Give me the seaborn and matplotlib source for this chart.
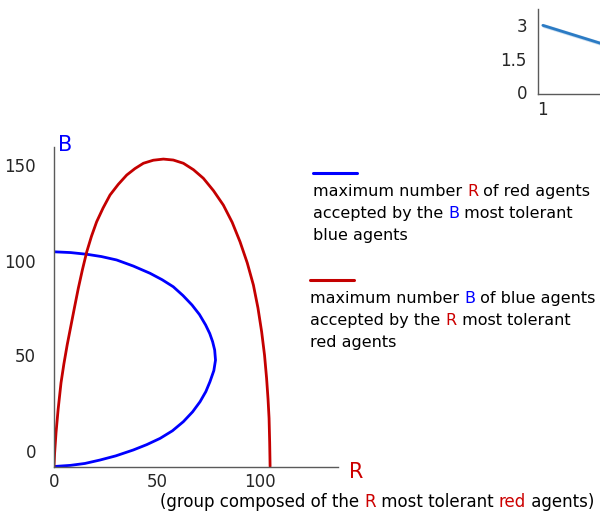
import numpy as np
import pandas as pd
import matplotlib
matplotlib.use("Agg")
import matplotlib.pyplot as plt
import seaborn as sns
from matplotlib.transforms import ScaledTranslation
from matplotlib.lines import Line2D

# ---------------- data ----------------
# blue curve: max number R of red agents accepted by the B most tolerant blue agents
blue_R = [0, 8, 15, 22.3, 30, 38.5, 45, 51.5, 57.5, 62.8, 67.3, 70.9, 73.7,
          75.7, 77.6, 78.4, 78.0, 77.0, 75.6, 73.6, 70.6, 67.0, 62.6, 57.9,
          52.5, 46.6, 38.5, 30.4, 23.0, 15.9, 8.0, 0]
blue_B = [0, 0.6, 1.6, 3.4, 5.6, 8.7, 11.5, 14.8, 18.8, 23.6, 28.8, 34.1, 39.4,
          44.6, 50.5, 56.0, 61.3, 65.7, 70.0, 74.5, 80.0, 85.0, 90.0, 94.6,
          98.3, 101.7, 105.5, 108.7, 110.5, 111.7, 112.6, 113.0]
# red curve: max number B of blue agents accepted by the R most tolerant red agents
red_R = [0, 0.3, 1.0, 2.0, 3.4, 4.8, 6.4, 8.2, 10.0, 11.8, 13.8, 15.9, 18.2,
         20.7, 23.8, 27.2, 31.2, 35.3, 39.3, 43.4, 48.2, 53.1, 57.9, 62.8,
         67.7, 72.5, 77.4, 82.2, 86.5, 90.3, 93.8, 96.8, 99.0, 100.8, 102.2,
         103.2, 103.9, 104.4, 104.7, 104.9]
red_B = [0, 7, 18, 30, 44, 54, 64, 74, 84, 93.8, 103.6, 113.0, 121.2,
         128.8, 136.0, 142.9, 148.5, 153.4, 156.8, 159.6, 161.2, 161.8, 161.3,
         159.6, 156.2, 151.7, 145.2, 137.6, 128.5, 118.3, 107.2, 95.5, 83.5,
         70.9, 58.6, 46.4, 35.5, 25.4, 12.5, 0]

main_xticks = [0, 50, 100]
main_yticks = [0, 50, 100, 150]

# small inset (top right, cropped by the figure edge)
inset_x = [1, 1, 1, 2, 2, 2]
inset_y = [2.92, 3.0, 3.04, 1.57, 1.65, 1.69]
inset_yticks = [0, 1.5, 3]
inset_yticklabels = ["0", "1.5", "3"]
inset_xticks = [1]

legend_blue = [
    [("maximum number ", "black"), ("R", "#cc0000"), (" of red agents", "black")],
    [("accepted by the ", "black"), ("B", "#0000ff"), (" most tolerant", "black")],
    [("blue agents", "black")],
]
legend_red = [
    [("maximum number ", "black"), ("B", "#0000ff"), (" of blue agents", "black")],
    [("accepted by the ", "black"), ("R", "#cc0000"), (" most tolerant", "black")],
    [("red agents", "black")],
]
caption = [("(group composed of the ", "black"), ("R", "#cc0000"),
           (" most tolerant ", "black"), ("red", "#cc0000"), (" agents)", "black")]

# ---------------- figure ----------------
sns.set_style("white")
plt.rcParams["font.family"] = ["DejaVu Sans"]

W, H = 600, 514
fig = plt.figure(figsize=(W / 100, H / 100), dpi=100)


def fx(x):
    return x / W


def fy(y):
    return 1 - y / H


BLUE = "#0000ff"
RED = "#c40000"
SPINE = "#5a5a5a"

ax = fig.add_axes([fx(54), fy(466.5), (338 - 54) / W, (466.5 - 147) / H])
sns.lineplot(x=blue_R, y=blue_B, sort=False, estimator=None, color=BLUE,
             lw=2.0, ax=ax)
sns.lineplot(x=red_R, y=red_B, sort=False, estimator=None, color=RED,
             lw=2.0, ax=ax)
ax.set_xlim(0, (338 - 54) / 2.06)
ax.set_ylim(0, (466.5 - 147) / 1.9)
for s in ["top", "right"]:
    ax.spines[s].set_visible(False)
for s in ["left", "bottom"]:
    ax.spines[s].set_color(SPINE)
    ax.spines[s].set_linewidth(1.0)
ax.set_xticks(main_xticks)
ax.set_yticks(main_yticks)
ax.tick_params(axis="both", length=0, labelsize=12)
ax.tick_params(axis="y", pad=13)
ax.tick_params(axis="x", pad=5)
for lab in ax.get_yticklabels():
    lab.set_transform(lab.get_transform() +
                      ScaledTranslation(0, 0.16, fig.dpi_scale_trans))

fig.text(fx(65), fy(145), "B", color=BLUE, fontsize=15, ha="center", va="center")
fig.text(fx(356), fy(472), "R", color="#cc0000", fontsize=15, ha="center", va="center")


def colored_line(x, y_base, parts, size=11.5):
    prev = None
    for s, c in parts:
        if prev is None:
            t = fig.text(fx(x), fy(y_base), s, color=c, fontsize=size,
                         va="baseline", ha="left")
        else:
            t = ax.annotate(s, xy=(1, H - y_base),
                            xycoords=(prev, "figure pixels"),
                            va="baseline", ha="left", color=c, fontsize=size,
                            annotation_clip=False)
        prev = t


fig.add_artist(Line2D([fx(313), fx(357)], [fy(173), fy(173)], color=BLUE,
                      lw=2.2, transform=fig.transFigure))
for i, parts in enumerate(legend_blue):
    colored_line(313, 196 + 22 * i, parts)

fig.add_artist(Line2D([fx(310), fx(354)], [fy(280), fy(280)], color=RED,
                      lw=2.2, transform=fig.transFigure))
for i, parts in enumerate(legend_red):
    colored_line(310, 303 + 22 * i, parts)

colored_line(160, 507, caption, size=12)

# inset
ax2 = fig.add_axes([fx(538), fy(94), 300 / W, (94 - 9) / H])
inset_df = pd.DataFrame({"x": inset_x, "y": inset_y})
sns.lineplot(data=inset_df, x="x", y="y", errorbar="sd", color="#2b7bc4",
             lw=2.0, ax=ax2)
ax2.set_xlim(0.95, 0.95 + 300 / 97)
ax2.set_ylim(-0.09, 3.72)
ax2.set_xlabel("")
ax2.set_ylabel("")
for s in ["top", "right"]:
    ax2.spines[s].set_visible(False)
for s in ["left", "bottom"]:
    ax2.spines[s].set_color(SPINE)
    ax2.spines[s].set_linewidth(1.0)
ax2.set_yticks(inset_yticks)
ax2.set_yticklabels(inset_yticklabels)
ax2.set_xticks(inset_xticks)
ax2.tick_params(axis="both", length=0, labelsize=12)
ax2.tick_params(axis="y", pad=8)
ax2.tick_params(axis="x", pad=5)

fig.savefig("out.png", dpi=100)
